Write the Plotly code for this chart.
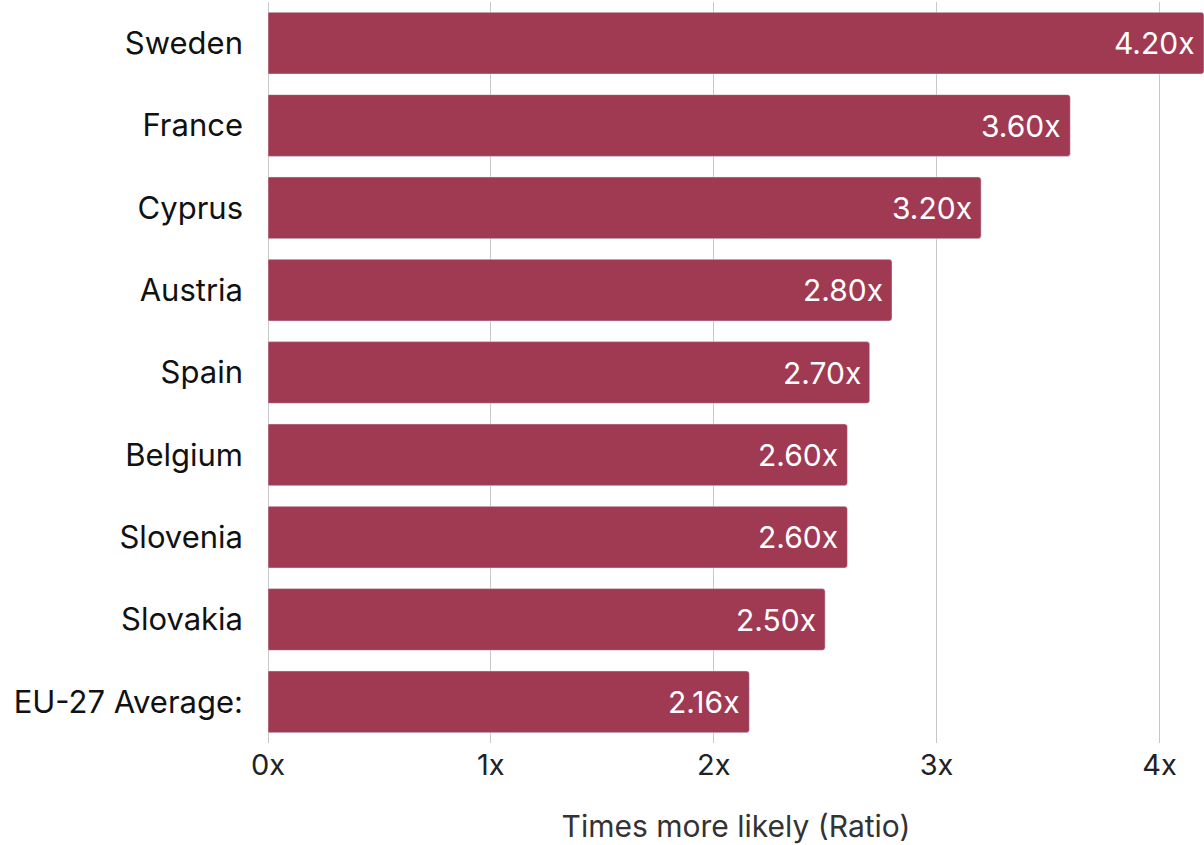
import plotly.graph_objects as go

countries = ["Sweden", "France", "Cyprus", "Austria", "Spain", "Belgium", "Slovenia", "Slovakia", "EU-27 Average:"]
ratios = [4.20, 3.60, 3.20, 2.80, 2.70, 2.60, 2.60, 2.50, 2.16]
tick_vals = [0, 1, 2, 3, 4]
tick_text = ["0x", "1x", "2x", "3x", "4x"]

FONT = "Inter, Open Sans, sans-serif"

fig = go.Figure(go.Bar(
    x=ratios,
    y=countries,
    orientation="h",
    marker=dict(color="#a03a53"),
    hoverinfo="x+y",
))

for c, v in zip(countries, ratios):
    fig.add_annotation(
        x=v, y=c, xref="x", yref="y",
        text=f"{v:.2f}x", showarrow=False,
        xanchor="right", xshift=-7,
        font=dict(family=FONT, size=30, color="white"),
    )

fig.update_layout(
    width=1204, height=845,
    margin=dict(l=268, r=0, t=2, b=102),
    paper_bgcolor="white", plot_bgcolor="white",
    font=dict(family=FONT, color="#222222"),
    bargap=0.25,
    barcornerradius=3,
    showlegend=False,
    xaxis=dict(
        range=[0, 4.2], automargin=False,
        tickvals=tick_vals, ticktext=tick_text,
        showgrid=True, gridcolor="#c8c8c8", gridwidth=1,
        zeroline=True, zerolinecolor="#c8c8c8", zerolinewidth=1,
        tickfont=dict(family=FONT, size=29, color="#222222"),
        ticks="", ticklabelstandoff=2,
        title=dict(text="Times more likely (Ratio)", font=dict(family=FONT, size=30, color="#333333"), standoff=34),
        fixedrange=True,
    ),
    yaxis=dict(
        automargin=False, fixedrange=True,
        categoryorder="array", categoryarray=countries[::-1],
        tickfont=dict(family=FONT, size=31, color="#111111"),
        ticks="", ticklabelstandoff=24,
        showgrid=False,
    ),
)

fig.write_html(
    "out.html",
    config={"displayModeBar": False},
    post_script="document.body.style.margin='0';document.body.style.padding='0';",
)
